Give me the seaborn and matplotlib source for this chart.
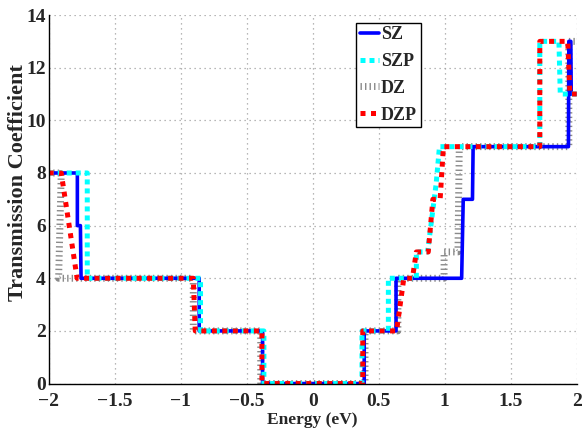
import matplotlib
matplotlib.use("Agg")
import matplotlib.pyplot as plt
from matplotlib.ticker import AutoMinorLocator
import seaborn as sns
import pandas as pd

# ---- data (step curves: energy breakpoints / transmission values) ----
energy_sz = [-2.0, -1.783, -1.783, -1.76, -1.755, -0.86, -0.86, -0.38, -0.38, 0.39, 0.39,
             0.631, 0.631, 1.128, 1.14, 1.21, 1.215, 1.937, 1.94, 1.955, 1.958, 2.0]
trans_sz = [8, 8, 6, 6, 4, 4, 2, 2, 0, 0, 2, 2, 4, 4, 7, 7, 9, 9, 13, 13, 11, 11]

energy_szp = [-2.0, -1.708, -1.708, -0.85, -0.85, -0.37, -0.37, 0.373, 0.373, 0.573, 0.573,
              0.785, 0.785, 0.87, 0.9, 0.935, 0.96, 1.72, 1.72, 1.865, 1.875, 2.0]
trans_szp = [8, 8, 4, 4, 2, 2, 0, 0, 2, 2, 4, 4, 5, 5, 6.2, 7.6, 9, 9, 13, 13, 11, 11]

energy_dz = [-2.0, -1.905, -1.925, -0.905, -0.905, -0.394, -0.394, 0.396, 0.396, 0.645, 0.645,
             0.995, 0.995, 1.10, 1.11, 1.94, 1.94, 2.0]
trans_dz = [8, 8, 4, 4, 2, 2, 0, 0, 2, 2, 4, 4, 5, 5, 9, 9, 13, 13]

energy_dzp = [-2.0, -1.905, -1.785, -0.905, -0.89, -0.385, -0.385, 0.379, 0.379, 0.635, 0.69,
              0.755, 0.785, 0.875, 0.91, 0.965, 0.99, 1.72, 1.72, 1.932, 1.948, 2.0]
trans_dzp = [8, 8, 4, 4, 2, 2, 0, 0, 2, 2, 4, 4, 5, 5, 7, 7, 9, 9, 13, 13, 11, 11]

labels = ["SZ", "SZP", "DZ", "DZP"]
x_ticks = [-2, -1.5, -1, -0.5, 0, 0.5, 1, 1.5, 2]
x_ticklabels = ["\u22122", "\u22121.5", "\u22121", "\u22120.5", "0", "0.5", "1", "1.5", "2"]
y_ticks = [0, 2, 4, 6, 8, 10, 12, 14]

sns.set_style("white")
plt.rcParams["font.family"] = ["Liberation Serif", "DejaVu Serif"]
plt.rcParams["font.weight"] = "bold"

fig = plt.figure(figsize=(5.82, 4.30), dpi=100)
ax = fig.add_axes([0.0837, 0.108, 0.9073, 0.857])

styles = {
    "SZ": dict(color="#0000ff", linewidth=2.6, linestyle="-"),
    "SZP": dict(color="#00ffff", linewidth=3.6, linestyle=(0, (1.0, 0.8))),
    "DZ": dict(color="#8a8a8a", linewidth=5.0, linestyle=(0, (0.2, 0.45))),
    "DZP": dict(color="#ff0000", linewidth=3.6, linestyle=(0, (1.0, 1.1))),
}
series = {
    "SZ": (energy_sz, trans_sz),
    "SZP": (energy_szp, trans_szp),
    "DZ": (energy_dz, trans_dz),
    "DZP": (energy_dzp, trans_dzp),
}

handles = {}
for name in ["DZ", "SZ", "SZP", "DZP"]:
    e, t = series[name]
    df = pd.DataFrame({"Energy": e, "T": t})
    st = styles[name]
    sns.lineplot(data=df, x="Energy", y="T", sort=False, estimator=None, ax=ax,
                 color=st["color"], linewidth=st["linewidth"], label=name)
    line = ax.lines[-1]
    line.set_linestyle(st["linestyle"])
    line.set_dash_capstyle("butt")
    handles[name] = line

ax.set_xlim(-2, 2)
ax.set_ylim(0, 14)
ax.set_xticks(x_ticks)
ax.set_xticklabels(x_ticklabels)
ax.set_yticks(y_ticks)
ax.xaxis.set_minor_locator(AutoMinorLocator(5))
ax.yaxis.set_minor_locator(AutoMinorLocator(4))
ax.tick_params(axis="both", which="major", direction="in", length=5, width=1,
               labelsize=14, color="black")
ax.tick_params(axis="x", which="major", pad=7)
ax.tick_params(axis="y", which="major", pad=2)
ax.tick_params(axis="both", which="minor", direction="in", length=2.5, width=0.8, color="black")
for lab in ax.get_xticklabels() + ax.get_yticklabels():
    lab.set_fontweight("bold")

ax.grid(True, which="major", linestyle=(0, (1, 3)), color="#a0a0a0", linewidth=0.9)
for s in ["top", "right"]:
    ax.spines[s].set_visible(False)
for s in ["left", "bottom"]:
    ax.spines[s].set_color("black")
    ax.spines[s].set_linewidth(1.0)

ax.set_xlabel("Energy (eV)", fontsize=12.5, fontweight="bold", labelpad=1)
ax.set_ylabel("Transmission Coefficient", fontsize=16, fontweight="bold")
ax.yaxis.set_label_coords(18 / 582, 1 - 183 / 430, transform=fig.transFigure)
ax.yaxis.label.set_verticalalignment("center")

leg = ax.legend([handles[n] for n in labels], labels, loc="upper left",
                bbox_to_anchor=(356 / 582, 1 - 22.7 / 430), bbox_transform=fig.transFigure,
                prop={"size": 13, "weight": "bold"}, frameon=True, fancybox=False,
                handlelength=1.1, handletextpad=0.08, labelspacing=0.54, borderpad=0.2,
                borderaxespad=0, framealpha=1)
leg.get_frame().set_edgecolor("black")
leg.get_frame().set_linewidth(1.0)

fig.savefig("out.png", dpi=100)
